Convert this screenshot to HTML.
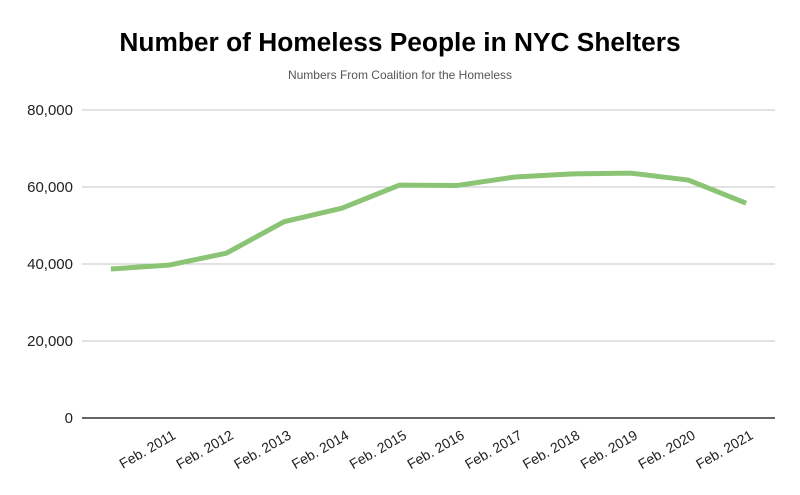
<!DOCTYPE html>
<html><head><meta charset="utf-8"><style>
body{margin:0;background:#fff;}
svg{display:block;font-family:"Liberation Sans",Arial,sans-serif;}
</style></head><body>
<svg id="chart" width="800" height="495">
<text x="400" y="51" text-anchor="middle" font-size="26.3" font-weight="bold" fill="#000">Number of Homeless People in NYC Shelters</text>
<text x="400" y="79" text-anchor="middle" font-size="12" fill="#555">Numbers From Coalition for the Homeless</text>
<g id="grid"></g><g id="xlabels"></g><g id="series"></g>
</svg>
<script>
const categories=["","Feb. 2011","Feb. 2012","Feb. 2013","Feb. 2014","Feb. 2015","Feb. 2016","Feb. 2017","Feb. 2018","Feb. 2019","Feb. 2020","Feb. 2021"];
const values=[38700,39700,42800,51000,54500,60500,60400,62600,63400,63600,61800,55800];
const yTicks=[0,20000,40000,60000,80000];
const yTickLabels=["0","20,000","40,000","60,000","80,000"];
const NS="http://www.w3.org/2000/svg";
const L=82,R=775,T=110,B=418,yMax=80000;
const y=v=>B-(v/yMax)*(B-T);
const step=(R-L)/categories.length;
const x=i=>L+step*(i+0.5);
function mk(tag,attrs,parent){const e=document.createElementNS(NS,tag);for(const k in attrs)e.setAttribute(k,attrs[k]);parent.appendChild(e);return e;}
const grid=document.getElementById('grid');
yTicks.forEach((t,i)=>{
  const ln=mk('line',{x1:L,x2:R,y1:y(t),y2:y(t),stroke:t===0?'#333':'#c6c6c6','stroke-width':t===0?1.5:1},grid);
  
  
  const tx=mk('text',{x:73,y:y(t)+5,'text-anchor':'end','font-size':15,fill:'#222'},grid);
  tx.textContent=yTickLabels[i];
  
  
});
const xl=document.getElementById('xlabels');
categories.forEach((c,i)=>{
  if(!c)return;
  const ax=x(i)+8, ay=438;
  const tx=mk('text',{x:ax,y:ay,'text-anchor':'end','font-size':14,fill:'#222',transform:`rotate(-30 ${ax} ${ay})`},xl);
  tx.textContent=c;
  
  
});
const pts=values.map((v,i)=>x(i)+','+y(v)).join(' ');
const pl=mk('polyline',{points:pts,fill:'none',stroke:'#8bc474','stroke-width':5,'stroke-linejoin':'round'},document.getElementById('series'));


</script>
</body></html>
